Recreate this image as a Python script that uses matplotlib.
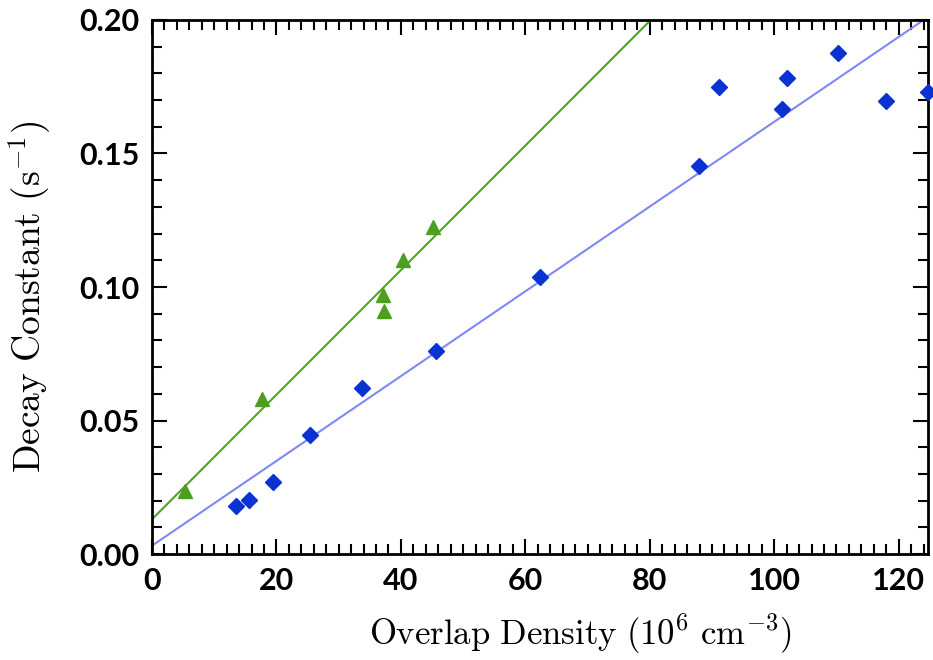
import matplotlib.pyplot as plt
import matplotlib
from matplotlib.ticker import MultipleLocator

matplotlib.rcParams['axes.unicode_minus'] = False
matplotlib.rcParams['mathtext.fontset'] = 'cm'

# Donnees : triangles verts
densite_vert = [5.3, 17.6, 37.1, 37.3, 40.3, 45.1]
decay_vert = [0.0237, 0.0581, 0.0970, 0.0911, 0.1101, 0.1226]

# Donnees : losanges bleus
densite_bleu = [13.45, 15.6, 19.4, 25.4, 33.7, 45.6, 62.3, 87.9, 91.2,
                101.2, 102.1, 110.2, 117.9, 124.7]
decay_bleu = [0.0180, 0.0202, 0.0269, 0.0446, 0.0623, 0.0761, 0.1039, 0.1454,
              0.1750, 0.1666, 0.1784, 0.1878, 0.1697, 0.1730]

# Droites d'ajustement (pente, ordonnee a l'origine)
fit_vert = (0.002333, 0.0130)
fit_bleu = (0.001588, 0.0031)
x_fit = [0, 130]

fig = plt.figure(figsize=(9.33, 6.60), dpi=100)
ax = fig.add_axes([0.1629, 0.1606, 0.8317, 0.8091])

ax.plot(x_fit, [fit_vert[1] + fit_vert[0] * x for x in x_fit],
        color='#4ea521', linewidth=1.5, zorder=2)
ax.plot(x_fit, [fit_bleu[1] + fit_bleu[0] * x for x in x_fit],
        color='#7f88f6', linewidth=1.5, zorder=2)

ax.plot(densite_vert, decay_vert, linestyle='none', marker='^',
        markersize=10.5, color='#4c9f1f', zorder=3, clip_on=False)
ax.plot(densite_bleu, decay_bleu, linestyle='none', marker='D',
        markersize=8.3, color='#0b33d4', zorder=3, clip_on=False)

ax.set_xlim(0, 124.7)
ax.set_ylim(0, 0.20)

ax.xaxis.set_major_locator(MultipleLocator(20))
ax.xaxis.set_minor_locator(MultipleLocator(2))
ax.yaxis.set_major_locator(MultipleLocator(0.05))
ax.yaxis.set_minor_locator(MultipleLocator(0.01))
ax.yaxis.set_major_formatter(matplotlib.ticker.FormatStrFormatter('%.2f'))

ax.tick_params(which='both', direction='in', top=True, right=True,
               width=1.5, colors='black')
ax.tick_params(which='major', length=11, pad=9)
ax.tick_params(which='minor', length=7)

for lab in ax.get_xticklabels() + ax.get_yticklabels():
    lab.set_fontfamily('Lato')
    lab.set_fontweight('bold')
    lab.set_fontsize(22)

for spine in ax.spines.values():
    spine.set_linewidth(2)

ax.set_xlabel(r'$\mathrm{Overlap\ Density\ (10^6\ cm^{-3})}$', fontsize=25)
ax.set_ylabel(r'$\mathrm{Decay\ Constant\ (s^{-1})}$', fontsize=27)
ax.xaxis.set_label_coords(0.5515, -0.108)
ax.yaxis.set_label_coords(-0.128, 0.481)

fig.patch.set_facecolor('white')
plt.savefig('out.png', dpi=100)
